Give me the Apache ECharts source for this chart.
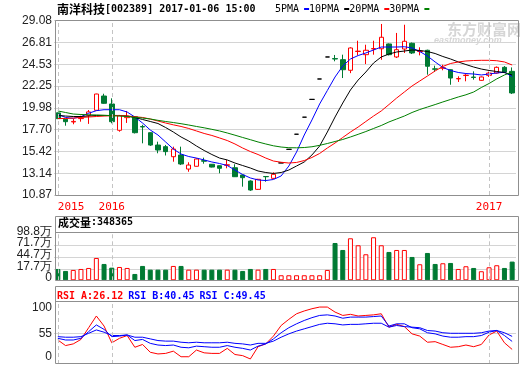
<!DOCTYPE html>
<html><head><meta charset="utf-8">
<script src="https://cdn.jsdelivr.net/npm/echarts@6/dist/echarts.min.js"></script>
<style>html,body{margin:0;padding:0;background:#fff}#c{width:520px;height:365px}</style>
</head><body><div id="c"></div>
<script>
// ---- data ----
const stockTitle = '南洋科技';
const stockInfo = '[002389] 2017-01-06 15:00';
const volHeader = '348365';
const rsiHeader = {A: '26.12', B: '40.45', C: '49.45'};

const open = [19.45,18.78,18.50,18.85,19.20,19.72,21.21,20.38,17.63,18.95,
 19.05,18.02,17.38,16.09,15.92,14.87,15.05,13.58,13.87,14.46,
 14.08,13.93,13.97,13.72,12.96,12.33,11.46,12.80,12.61,14.22,
 15.64,17.22,19.00,20.86,22.99,25.29,25.12,25.01,23.90,25.86,
 25.53,26.13,26.15,26.65,25.29,26.12,26.72,25.86,25.99,24.05,
 24.12,23.96,23.00,23.35,23.19,22.85,23.37,23.61,24.21,23.79];
const close = [18.85,18.53,18.56,18.90,19.55,21.42,20.45,18.53,19.15,19.10,
 17.38,17.98,16.09,15.57,15.40,15.67,14.11,14.00,14.63,14.40,
 13.79,13.66,14.03,12.78,12.68,11.39,12.51,12.78,13.03,14.22,
 15.64,17.22,19.00,20.86,22.99,25.29,25.08,23.96,26.23,25.90,
 25.99,26.17,27.35,25.53,26.05,26.93,25.71,25.90,24.32,24.01,
 24.16,23.09,23.04,23.39,23.15,23.20,23.61,24.21,23.72,21.53];
const low = [18.80,18.11,18.26,18.53,18.30,19.70,20.40,18.36,17.48,18.40,
 17.30,16.27,16.00,15.23,15.00,14.35,14.00,13.30,13.85,14.14,
 13.75,13.14,13.66,12.75,11.74,11.30,11.40,12.26,12.54,14.22,
 15.64,17.22,19.00,20.86,22.99,25.29,24.84,23.09,23.60,25.46,
 24.55,25.53,25.00,25.45,25.18,25.71,25.60,25.46,23.44,23.72,
 23.90,22.39,22.68,22.75,22.92,22.80,23.20,23.55,23.60,21.42];
const high = [19.50,18.80,18.81,19.15,19.75,21.45,21.45,20.97,19.20,19.65,
 19.10,18.20,17.40,16.44,16.10,15.92,15.92,14.29,14.70,14.77,
 14.10,13.95,14.53,14.08,12.98,12.40,12.55,12.80,13.24,14.22,
 15.64,17.22,19.00,20.86,22.99,25.29,25.50,25.53,26.30,26.99,
 26.57,26.99,28.74,26.70,27.80,28.66,26.80,26.30,26.05,24.38,
 24.48,24.00,23.27,23.50,23.79,23.25,23.75,24.30,24.34,24.20];
// volume, in 万 (10k)
const vol = [17.7,13.1,15.4,17.7,20.0,43.2,29.3,20.7,22.3,20.0,
 6.1,24.7,16.1,16.1,16.1,24.7,24.7,16.1,16.1,16.1,
 16.1,16.1,16.1,16.1,13.1,17.7,16.1,17.7,17.7,3.1,
 3.1,3.1,3.1,3.1,3.1,15.4,77.9,61.7,88.8,72.6,
 51.8,91.2,72.6,57.1,61.7,61.7,45.5,28.6,54.8,29.3,
 30.9,31.6,17.7,24.0,20.0,12.4,21.6,26.3,20.0,34.8];
const ma5 = [19.30,18.97,18.88,19.05,19.41,19.68,19.78,19.78,19.78,19.54,
 19.02,18.39,17.66,17.14,16.41,15.67,15.15,14.89,14.73,14.53,
 14.32,14.16,13.95,13.48,13.01,12.65,12.44,12.38,12.49,12.86,
 13.90,15.36,17.14,18.71,20.38,21.79,23.20,24.35,25.08,25.44,
 25.71,26.02,26.33,26.33,26.33,26.36,26.23,25.86,25.39,24.77,
 24.19,23.88,23.67,23.56,23.51,23.41,23.51,23.62,23.69,23.25];
const ma10 = [19.18,19.12,19.07,19.07,19.12,19.18,19.18,19.18,19.18,19.12,
 18.97,18.76,18.55,18.34,17.92,17.45,16.93,16.51,15.99,15.52,
 15.10,14.73,14.53,14.21,13.95,13.69,13.38,13.22,13.12,13.22,
 13.48,13.90,14.32,15.05,15.99,17.45,19.02,20.48,21.84,22.88,
 23.72,24.66,25.29,25.60,25.81,25.91,26.02,25.97,25.86,25.65,
 25.34,25.08,24.77,24.50,24.24,24.03,23.88,23.77,23.67,23.41];
const ma20 = [18.86,18.86,18.91,18.97,19.02,19.07,19.12,19.15,19.18,19.12,
 19.05,18.97,18.81,18.60,18.39,18.20,18.03,17.82,17.56,17.30,
 17.09,16.83,16.56,16.20,15.78,15.41,15.10,14.73,14.42,14.29,
 14.21,14.27,14.47,14.79,15.21,15.78,16.30,16.88,17.45,17.97,
 18.55,19.12,19.65,20.32,21.00,21.63,22.26,22.78,23.30,23.83,
 24.30,24.61,24.77,24.87,24.92,24.94,24.94,24.90,24.77,24.45];
const ma30 = [19.65,19.49,19.33,19.28,19.25,19.23,19.20,19.15,19.12,19.07,
 18.99,18.91,18.81,18.67,18.55,18.44,18.32,18.18,18.03,17.89,
 17.73,17.56,17.35,17.12,16.88,16.65,16.41,16.20,16.01,15.88,
 15.81,15.80,15.83,15.91,16.06,16.25,16.46,16.67,16.93,17.21,
 17.50,17.82,18.13,18.50,18.81,19.12,19.49,19.80,20.06,20.32,
 20.59,20.85,21.11,21.34,21.63,22.10,22.52,23.00,23.41,23.72];
const rsiA = [43,33,36,44,65,86,68,38,46,51,
 30,35,21,18,19,23,13,13,25,20,
 19,19,28,17,15,9,31,36,50,69,
 80,90,95,99,102,102,93,87,89,86,
 87,88,90,66,71,67,54,50,39,40,
 35,30,31,34,31,35,52,59,38,26.12];
const rsiB = [46,43,43,46,58,70,62,49,50,52,
 42,44,37,34,33,34,30,29,32,31,
 30,30,33,30,28,25,32,36,45,56,
 65,72,78,83,87,88,86,82,84,84,
 84,85,86,68,72,72,65,63,56,54,
 50,48,48,49,49,51,57,60,51,40.45];
const rsiC = [49,48,48,49,55,61,57,51,51,52,
 48,48,45,42,41,41,39,38,39,38,
 38,38,39,37,36,34,37,37,41,48,
 54,59,63,67,71,73,72,70,71,71,
 72,73,73,66,69,67,66,65,60,59,
 56,55,55,55,55,56,59,60,56,49.45];

// x tick labels (year boundaries: bar index -> label)
const yearIndex = [0, 7, 56];
const yearLabels = ['2015', '2016', '2017'];
// y tick labels
const priceTicks = [10.87,13.14,15.42,17.70,19.98,22.25,24.53,26.81,29.08];
const volTickValues = [-8.6, 17.7, 44.7, 71.7, 98.8];
const volTickLabels = ['0', '17.7万', '44.7万', '71.7万', '98.8万'];
const rsiTicks = [0, 55, 100];

// ---- chart ----
const UP = '#ff0000', DOWN = '#007a33';
const MONO = '"DejaVu Sans Mono", monospace';
const CJK = '"Noto Sans CJK SC", sans-serif';
const SANS = '"Liberation Sans", Arial, sans-serif';
const VOL_MIN = volTickValues[0], VOL_MAX = 102.7;
const cats = open.map((_, i) => String(i));
const candles = open.map((o, i) => [o, close[i], low[i], high[i]]);
function isUp(i) {
  if (close[i] !== open[i]) return close[i] > open[i];
  return i === 0 || close[i] >= close[i - 1];
}
const volData = vol.map((v, i) => ({
  value: v,
  itemStyle: isUp(i) ? {color: '#fff', borderColor: UP, borderWidth: 1}
                     : {color: DOWN, borderColor: DOWN, borderWidth: 1}
}));
const dashLines = {
  silent: true, symbol: ['none', 'none'], label: {show: false},
  lineStyle: {color: '#c4c4c4', type: [4, 3], width: 1},
  emphasis: {disabled: true},
  data: yearIndex.map(i => ({xAxis: i}))
};
const gridColor = '#d4d4d4';
const G = [
  {left: 54, top: 20.7, width: 462, height: 174.3},
  {left: 54, top: 232.3, width: 462, height: 48},
  {left: 54, top: 301.7, width: 462, height: 62.3}
];
function xAx(idx, showLabel) {
  return {
    type: 'category', gridIndex: idx, data: cats, boundaryGap: true,
    axisLine: {show: false}, axisTick: {show: false}, splitLine: {show: false},
    axisLabel: showLabel ? {
      show: true, color: '#ff0000', fontFamily: MONO, fontSize: 11, margin: 7,
      interval: (i) => yearIndex.indexOf(i) >= 0,
      alignMinLabel: 'left',
      formatter: (v) => { const k = yearIndex.indexOf(Number(v)); return k >= 0 ? yearLabels[k] : ''; }
    } : {show: false}
  };
}
function volLabel(v) {
  let k = 0, d = 1e9;
  volTickValues.forEach((t, j) => { if (Math.abs(t - v) < d) { d = Math.abs(t - v); k = j; } });
  return volTickLabels[k];
}
// volume labels are packed tightly; split them over two overlaid left axes so none gets auto-hidden
function volAxis(labelValues, withGrid) {
  return {
    type: 'value', gridIndex: 1, position: 'left', offset: 0,
    min: VOL_MIN, max: VOL_MAX, startValue: VOL_MIN,
    axisLine: {show: false},
    axisTick: {show: false, customValues: withGrid ? [17.7, 44.7, 71.7] : labelValues},
    splitLine: {show: withGrid, lineStyle: {color: gridColor, width: 1}},
    axisLabel: {customValues: labelValues, color: '#222', fontFamily: SANS, fontSize: 12, margin: 2,
                showMinLabel: true, showMaxLabel: true, hideOverlap: false,
                lineHeight: 5, verticalAlign: 'bottom', formatter: volLabel}
  };
}
const chart = echarts.init(document.getElementById('c'));
chart.setOption({
  animation: false,
  backgroundColor: '#fff',
  title: [
    {left: 57, top: 3, padding: 0,
     text: '{c|' + stockTitle + '}{m|' + stockInfo + '}',
     textStyle: {rich: {c: {fontFamily: CJK, fontSize: 12, color: '#000'},
                        m: {fontFamily: MONO, fontSize: 10, color: '#000'}}}},
    {left: 58, top: 217, padding: 0,
     text: '{c|成交量}{m|:' + volHeader + '}',
     textStyle: {rich: {c: {fontFamily: CJK, fontSize: 11, color: '#000'},
                        m: {fontFamily: MONO, fontSize: 10, color: '#000'}}}},
    {left: 57, top: 287, padding: 0,
     text: '{a|RSI_A:' + rsiHeader.A + '} {b|RSI_B:' + rsiHeader.B + '} {b|RSI_C:' + rsiHeader.C + '}',
     textStyle: {rich: {a: {fontFamily: MONO, fontSize: 10, color: '#ff0000'},
                        b: {fontFamily: MONO, fontSize: 10, color: '#0000ff'}}}}
  ],
  legend: {
    left: 275, top: 4, padding: 0, align: 'right', icon: 'rect',
    itemWidth: 5, itemHeight: 2, itemGap: 0, selectedMode: false,
    textStyle: {fontFamily: MONO, fontSize: 10, color: '#000'},
    data: ['5PMA', '10PMA', '20PMA', '30PMA']
  },
  grid: G,
  xAxis: [xAx(0, true), xAx(1, false), xAx(2, false)],
  yAxis: [
    {type: 'value', gridIndex: 0, min: priceTicks[0], max: priceTicks[priceTicks.length - 1],
     axisLine: {show: false}, axisTick: {show: false, customValues: priceTicks},
     splitLine: {show: true, lineStyle: {color: gridColor, width: 1}},
     axisLabel: {customValues: priceTicks, color: '#222', fontFamily: SANS, fontSize: 12, margin: 2,
                 showMinLabel: true, showMaxLabel: true, hideOverlap: false,
                 formatter: (v) => v.toFixed(2)}},
    volAxis([volTickValues[0], volTickValues[2], volTickValues[4]], true),
    {type: 'value', gridIndex: 2, min: 0, max: 111.6,
     axisLine: {show: false}, axisTick: {show: false, customValues: [55]},
     splitLine: {show: true, lineStyle: {color: gridColor, width: 1}},
     axisLabel: {customValues: rsiTicks, color: '#222', fontFamily: SANS, fontSize: 12, margin: 2,
                 showMinLabel: true, showMaxLabel: true, hideOverlap: false,
                 formatter: (v) => v === 0 ? '{z|0}' : String(v),
                 rich: {z: {padding: [0, 0, 14, 0], fontFamily: SANS, fontSize: 12, color: '#222'}}}},
    volAxis([volTickValues[1], volTickValues[3]], false)
  ],
  graphic: [
    {type: 'rect', z: 100, silent: true, shape: {x: 55.5, y: 20.5, width: 463, height: 175}, style: {fill: 'none', stroke: '#8f8f8f', lineWidth: 1}},
    {type: 'rect', z: 100, silent: true, shape: {x: 55.5, y: 216.5, width: 463, height: 64}, style: {fill: 'none', stroke: '#8f8f8f', lineWidth: 1}},
    {type: 'line', z: 100, silent: true, shape: {x1: 55.5, y1: 232.5, x2: 518.5, y2: 232.5}, style: {stroke: '#8f8f8f', lineWidth: 1}},
    {type: 'rect', z: 100, silent: true, shape: {x: 55.5, y: 286.5, width: 463, height: 77}, style: {fill: 'none', stroke: '#8f8f8f', lineWidth: 1}},
    {type: 'line', z: 100, silent: true, shape: {x1: 55.5, y1: 301.5, x2: 518.5, y2: 301.5}, style: {stroke: '#8f8f8f', lineWidth: 1}},
    {type: 'text', z: 0, silent: true, x: 447, y: 22, style: {text: '东方财富网', font: 'bold 15px "Noto Sans CJK SC"', fill: '#d6d6d6'}},
    {type: 'text', z: 0, silent: true, x: 434, y: 36, style: {text: 'eastmoney.com', font: 'italic bold 9px "Liberation Sans"', fill: '#d6d6d6'}}
  ],
  series: [
    {type: 'candlestick', name: 'K', xAxisIndex: 0, yAxisIndex: 0, data: candles, barWidth: 5, z: 2,
     itemStyle: {color: '#ffffff', color0: DOWN, borderColor: UP, borderColor0: DOWN, borderColorDoji: '#000000', borderWidth: 1},
     markLine: dashLines},
    {type: 'line', name: '5PMA', xAxisIndex: 0, yAxisIndex: 0, data: ma5, showSymbol: false, z: 3,
     color: '#0000ff', lineStyle: {width: 1, color: '#0000ff'}},
    {type: 'line', name: '10PMA', xAxisIndex: 0, yAxisIndex: 0, data: ma10, showSymbol: false, z: 3,
     color: '#000000', lineStyle: {width: 1, color: '#000000'}},
    {type: 'line', name: '20PMA', xAxisIndex: 0, yAxisIndex: 0, data: ma20, showSymbol: false, z: 3,
     color: '#ff0000', lineStyle: {width: 1, color: '#ff0000'}},
    {type: 'line', name: '30PMA', xAxisIndex: 0, yAxisIndex: 0, data: ma30, showSymbol: false, z: 3,
     color: '#008000', lineStyle: {width: 1, color: '#008000'}},
    {type: 'bar', name: 'VOL', xAxisIndex: 1, yAxisIndex: 1, data: volData, barWidth: 5, markLine: dashLines},
    {type: 'line', name: 'RSI_A', xAxisIndex: 2, yAxisIndex: 2, data: rsiA, showSymbol: false,
     lineStyle: {width: 1, color: '#ff0000'}, markLine: dashLines},
    {type: 'line', name: 'RSI_B', xAxisIndex: 2, yAxisIndex: 2, data: rsiB, showSymbol: false,
     lineStyle: {width: 1, color: '#0000ff'}},
    {type: 'line', name: 'RSI_C', xAxisIndex: 2, yAxisIndex: 2, data: rsiC, showSymbol: false,
     lineStyle: {width: 1, color: '#0000ff'}}
  ]
});
</script>
</body></html>
